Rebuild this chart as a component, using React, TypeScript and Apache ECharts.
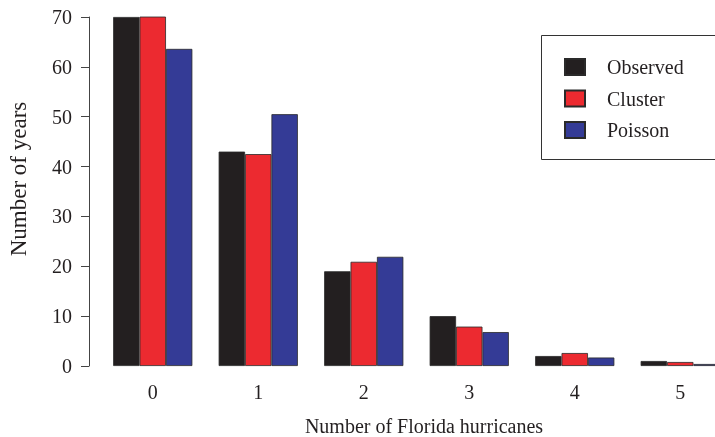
import React, { useEffect, useRef } from "react";
import * as echarts from "echarts";

const categories = ["0", "1", "2", "3", "4", "5"];
const observed = [70, 43, 19, 10, 2, 1];
const cluster = [70.1, 42.5, 20.9, 7.9, 2.6, 0.8];
const poisson = [63.6, 50.5, 21.9, 6.8, 1.7, 0.4];
const yTicks = [0, 10, 20, 30, 40, 50, 60, 70];

const FONT = "'Liberation Serif', 'Times New Roman', serif";
const TXT = "#231f20";

export default function App() {
  const ref = useRef<HTMLDivElement>(null);
  useEffect(() => {
    if (!ref.current) return;
    const chart = echarts.init(ref.current, null, { renderer: "svg" });
    const mk = (name: string, data: number[], color: string) => ({
      name,
      type: "bar",
      data,
      barWidth: 26.4,
      barGap: "0%",
      itemStyle: { color, borderColor: "#2a2a2a", borderWidth: 0.8 },
    });
    chart.setOption({
      animation: false,
      textStyle: { fontFamily: FONT, color: TXT },
      grid: { left: 100, right: 7, top: 17, bottom: 71, containLabel: false },
      xAxis: {
        type: "category",
        data: categories,
        axisLine: { show: false },
        axisTick: { show: false },
        axisLabel: { fontSize: 20, color: TXT, fontFamily: FONT, margin: 16 },
      },
      yAxis: {
        type: "value",
        min: yTicks[0],
        max: yTicks[yTicks.length - 1],
        interval: 10,
        offset: 11,
        splitLine: { show: false },
        axisLine: { show: true, lineStyle: { color: "#444", width: 1 } },
        axisTick: { show: true, length: 8, lineStyle: { color: "#444" } },
        axisLabel: { fontSize: 20, color: TXT, fontFamily: FONT, margin: 17 },
      },
      legend: {
        orient: "vertical",
        left: 564,
        top: 57,
        padding: 0,
        itemWidth: 20,
        itemHeight: 16,
        itemGap: 11.5,
        icon: "rect",
        textStyle: {
          fontSize: 20,
          color: TXT,
          fontFamily: FONT,
          padding: [0, 0, 0, 17],
        },
        data: ["Observed", "Cluster", "Poisson"],
      },
      graphic: [
        {
          type: "rect",
          shape: { x: 541.5, y: 35.5, width: 220, height: 124 },
          style: { fill: "none", stroke: "#333", lineWidth: 1 },
          z: -1,
        },
        {
          type: "text",
          x: 424,
          y: 426,
          style: {
            text: "Number of Florida hurricanes",
            fontSize: 20,
            fontFamily: FONT,
            fill: TXT,
            align: "center",
            verticalAlign: "middle",
          },
        },
        {
          type: "text",
          x: 18,
          y: 179,
          rotation: Math.PI / 2,
          style: {
            text: "Number of years",
            fontSize: 23,
            fontFamily: FONT,
            fill: TXT,
            align: "center",
            verticalAlign: "middle",
          },
        },
      ],
      series: [
        mk("Observed", observed, "#231f20"),
        mk("Cluster", cluster, "#ec2a30"),
        mk("Poisson", poisson, "#343b96"),
      ],
    });
    return () => chart.dispose();
  }, []);
  return (
    <div
      style={{
        position: "fixed",
        left: 0,
        top: 0,
        width: 715,
        height: 437,
        overflow: "hidden",
      }}
    >
      <div ref={ref} style={{ width: 740, height: 437 }} />
    </div>
  );
}
